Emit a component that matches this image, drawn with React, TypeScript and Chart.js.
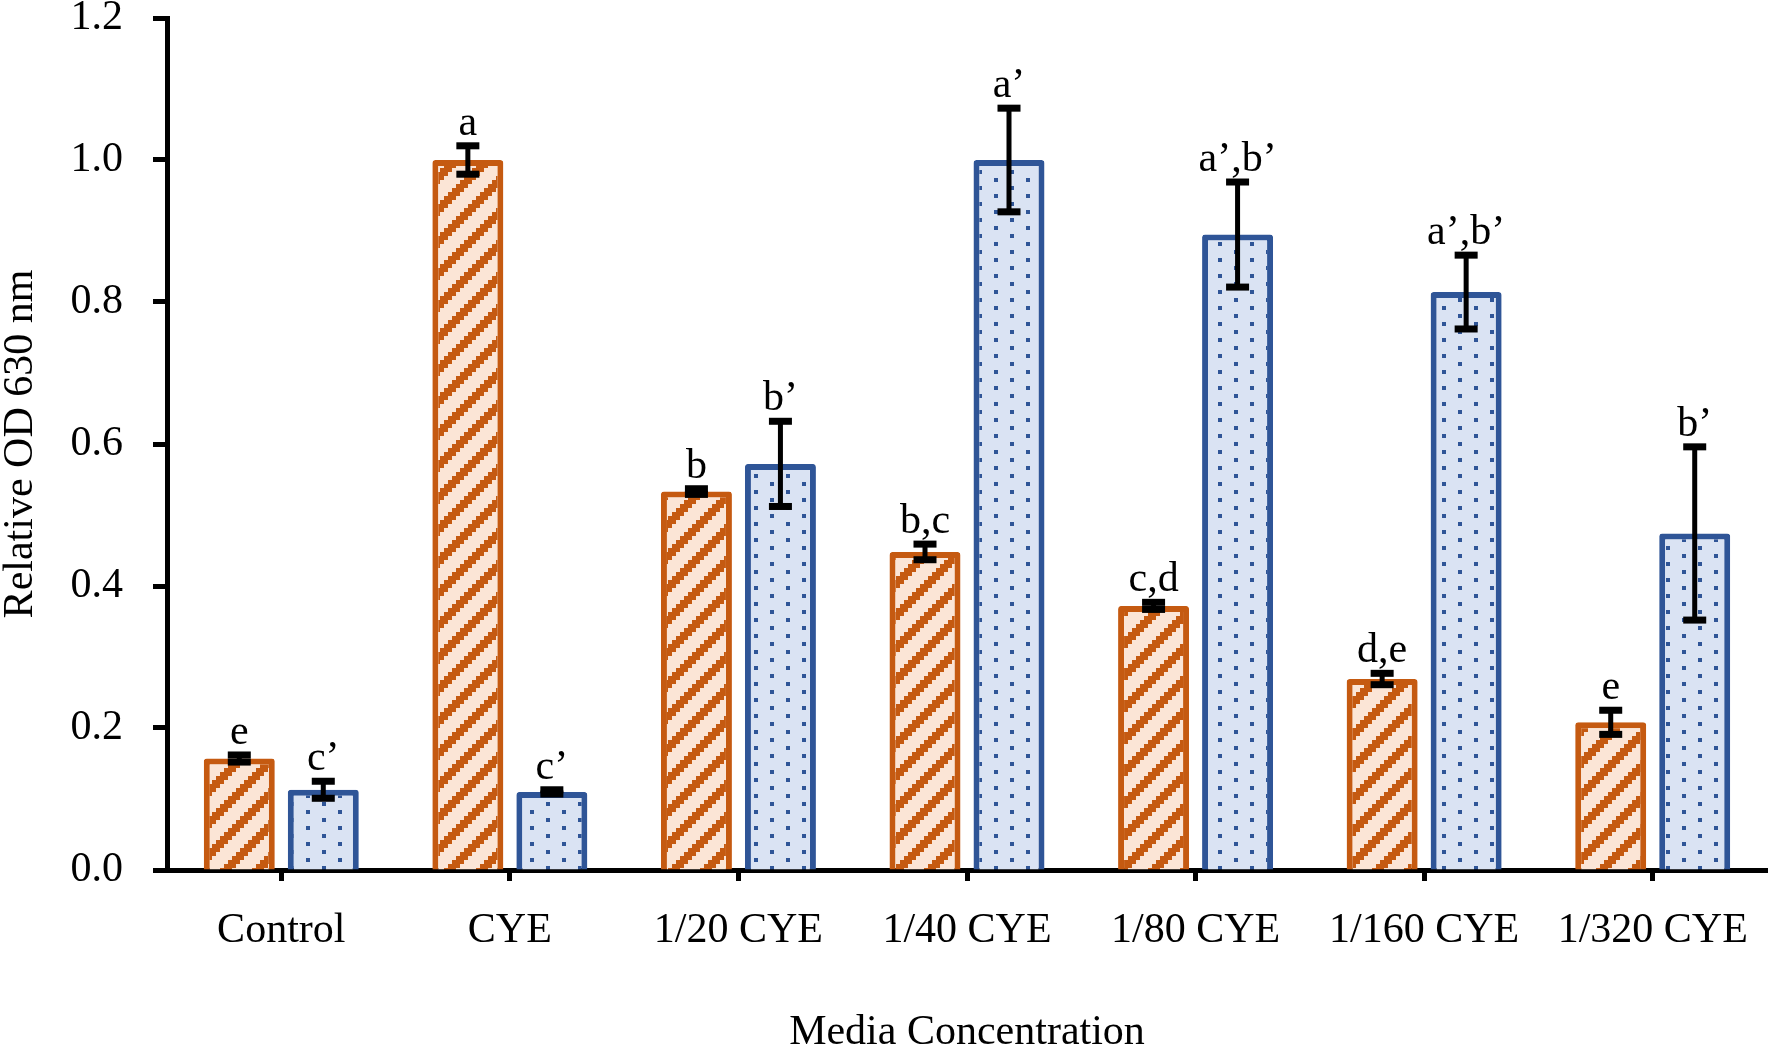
import { useEffect, useRef } from 'react';
import { Chart, registerables } from 'chart.js';

Chart.register(...registerables);

const categories = ['Control', 'CYE', '1/20 CYE', '1/40 CYE', '1/80 CYE', '1/160 CYE', '1/320 CYE'];

const seriesA = [0.157, 1.0, 0.533, 0.448, 0.372, 0.269, 0.208];
const errorsA = [0.005, 0.02, 0.004, 0.011, 0.005, 0.008, 0.017];
const lettersA = ['e', 'a', 'b', 'b,c', 'c,d', 'd,e', 'e'];

const seriesB = [0.113, 0.11, 0.572, 1.0, 0.895, 0.814, 0.474];
const errorsB = [0.012, 0.003, 0.06, 0.073, 0.074, 0.052, 0.122];
const lettersB = ['c\u2019', 'c\u2019', 'b\u2019', 'a\u2019', 'a\u2019,b\u2019', 'a\u2019,b\u2019', 'b\u2019'];

const yTicks = [0, 0.2, 0.4, 0.6, 0.8, 1.0, 1.2];

const FONT = "'Liberation Serif', 'Times New Roman', serif";
const FONT_SIZE = 42;
const ORANGE = '#C55A11';
const PEACH = '#FBE5D6';
const BLUE = '#2F5597';
const PALE_BLUE = '#DAE3F3';

// excel-like "wide upward diagonal", 8x8 bits blown up 4x
function makeStripes(ctx: CanvasRenderingContext2D) {
  const c = document.createElement('canvas');
  c.width = 32;
  c.height = 32;
  const g = c.getContext('2d')!;
  g.fillStyle = PEACH;
  g.fillRect(0, 0, 32, 32);
  g.fillStyle = ORANGE;
  for (let py = 0; py < 8; py++) {
    for (let px = 0; px < 8; px++) {
      if ((px + py) % 8 < 3) g.fillRect(px * 4, py * 4, 4, 4);
    }
  }
  return ctx.createPattern(c, 'repeat')!;
}

// excel-like "10%" dots
function makeDots(ctx: CanvasRenderingContext2D) {
  const c = document.createElement('canvas');
  c.width = 32;
  c.height = 16;
  const g = c.getContext('2d')!;
  g.fillStyle = PALE_BLUE;
  g.fillRect(0, 0, 32, 16);
  g.fillStyle = BLUE;
  g.fillRect(2, 2, 4, 4);
  g.fillRect(18, 10, 4, 4);
  return ctx.createPattern(c, 'repeat')!;
}

const errorBars = {
  id: 'errorBars',
  afterDatasetsDraw(chart: Chart) {
    const { ctx } = chart;
    const y = chart.scales.y;
    const errs = [errorsA, errorsB];
    const letters = [lettersA, lettersB];
    ctx.save();
    chart.data.datasets.forEach((ds, di) => {
      const meta = chart.getDatasetMeta(di);
      meta.data.forEach((el: any, i) => {
        const v = ds.data[i] as number;
        const e = errs[di][i];
        const top = y.getPixelForValue(v + e);
        const bot = y.getPixelForValue(v - e);
        const x = el.x;
        ctx.fillStyle = '#000';
        ctx.fillRect(x - 2.5, top, 5, bot - top);
        ctx.fillRect(x - 11.5, top - 3.5, 23, 7);
        ctx.fillRect(x - 11.5, bot - 3.5, 23, 7);
        ctx.font = `${FONT_SIZE}px ${FONT}`;
        ctx.textAlign = 'center';
        ctx.textBaseline = 'alphabetic';
        ctx.fillText(letters[di][i], x, Math.min(top, el.y) - 11);
      });
    });
    ctx.restore();
  },
};

export default function App() {
  const canvasRef = useRef<HTMLCanvasElement>(null);
  const chartRef = useRef<Chart | null>(null);

  useEffect(() => {
    document.body.style.margin = '0';
    if (!canvasRef.current) return;
    const ctx = canvasRef.current.getContext('2d')!;
    if (chartRef.current) chartRef.current.destroy();

    chartRef.current = new Chart(canvasRef.current, {
      type: 'bar',
      data: {
        labels: categories,
        datasets: [
          {
            data: seriesA,
            backgroundColor: makeStripes(ctx),
            borderColor: ORANGE,
            borderWidth: 6,
            borderRadius: 3,
            barPercentage: 0.845,
            categoryPercentage: 0.735,
          },
          {
            data: seriesB,
            backgroundColor: makeDots(ctx),
            borderColor: BLUE,
            borderWidth: 6,
            borderRadius: 3,
            barPercentage: 0.845,
            categoryPercentage: 0.735,
          },
        ],
      },
      options: {
        responsive: false,
        devicePixelRatio: 1,
        animation: false,
        layout: { padding: { top: 18, right: 5, bottom: 0, left: 0 } },
        plugins: {
          legend: { display: false },
          tooltip: { enabled: false },
        },
        scales: {
          x: {
            grid: {
              display: true,
              drawOnChartArea: false,
              drawTicks: true,
              tickLength: 11,
              tickWidth: 5,
              tickColor: '#000',
              offset: false,
            },
            border: { display: true, color: '#000', width: 5 },
            ticks: {
              color: '#000',
              font: { family: FONT, size: FONT_SIZE },
              padding: 25,
              maxRotation: 0,
              autoSkip: false,
            },
            title: {
              display: true,
              text: 'Media Concentration',
              color: '#000',
              font: { family: FONT, size: FONT_SIZE, lineHeight: 1.2 },
              padding: 0,
            },
            afterFit: (scale: any) => {
              scale.height = 188;
              scale.paddingLeft = 0;
              scale.paddingRight = 0;
            },
          },
          y: {
            min: 0,
            max: 1.2,
            afterBuildTicks: (scale: any) => {
              scale.ticks = yTicks.map((value) => ({ value }));
            },
            grid: {
              display: true,
              drawOnChartArea: false,
              drawTicks: true,
              tickLength: 14,
              tickWidth: 5,
              tickColor: '#000',
            },
            border: { display: true, color: '#000', width: 5 },
            ticks: {
              color: '#000',
              font: { family: FONT, size: FONT_SIZE },
              padding: 30,
              callback: (v: any) => Number(v).toFixed(1),
            },
            title: {
              display: true,
              text: 'Relative OD 630 nm',
              color: '#000',
              font: { family: FONT, size: FONT_SIZE, lineHeight: 1 },
              padding: 0,
            },
            afterFit: (scale: any) => {
              scale.width = 167;
              scale.paddingTop = 0;
              scale.paddingBottom = 0;
            },
          },
        },
      },
      plugins: [errorBars],
    });

    return () => {
      chartRef.current?.destroy();
      chartRef.current = null;
    };
  }, []);

  return (
    <div style={{ width: 1772, height: 1058, background: '#fff' }}>
      <canvas ref={canvasRef} width={1772} height={1058} />
    </div>
  );
}
